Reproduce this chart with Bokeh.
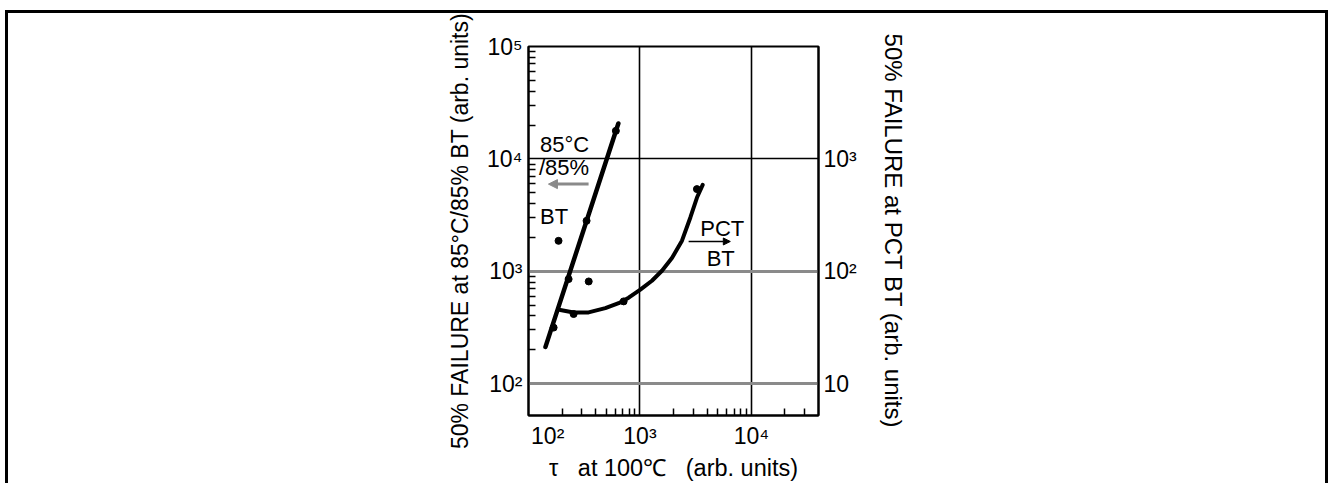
from bokeh.plotting import figure
from bokeh.models import (LogAxis, Range1d, FixedTicker, Grid, Label, Arrow,
                          NormalHead, LogScale)
from bokeh.embed import file_html
from bokeh.resources import INLINE

# ---------------- data ----------------
# 85C/85% BT fitted line (left axis)
tau_line_8585 = [142, 640]
fail_line_8585 = [212, 20650]
# 85C/85% BT measured points (left axis)
tau_pts_8585 = [168, 186, 229, 332, 608]
fail_pts_8585 = [315, 1864, 851, 2808, 17750]
# PCT BT fitted curve (right axis)
tau_curve_pct = [193, 254, 346, 489, 644, 792, 1008, 1281, 1576, 1937,
                 2383, 2834, 3249, 3655]
fail_curve_pct = [45.2, 43.0, 43.0, 46.9, 51.9, 58.1, 68.5, 82.3, 101, 131,
                  187, 301, 453, 587]
# PCT BT measured points (right axis)
tau_pts_pct = [254, 347, 714, 3245]
fail_pts_pct = [41.6, 81.1, 53.9, 538]

x_ticks = [100, 1000, 10000]
x_tick_labels = ["\u00a0" * 6 + "10²", "10³", "10⁴"]
x_minor = [200, 300, 400, 500, 600, 700, 800, 900,
           2000, 3000, 4000, 5000, 6000, 7000, 8000, 9000, 20000, 30000]
yl_ticks = [100, 1000, 10000, 100000]
yl_tick_labels = ["10²", "10³", "10⁴", "10⁵"]
yl_minor = [m * d for d in (100, 1000, 10000) for m in range(2, 10)]
yr_ticks = [10, 100, 1000]
yr_tick_labels = ["10", "10²", "10³"]

x_title = "τ\u00a0\u00a0\u00a0at 100℃\u00a0\u00a0\u00a0(arb. units)"
yl_title = "50% FAILURE at 85°C/85% BT (arb. units)"
yr_title = "50% FAILURE at PCT BT (arb. units)"

FONT = "Liberation Sans"
GRAY = "#8a8a8a"

p = figure(width=1331, height=483, output_backend="svg", toolbar_location=None,
           x_axis_type="log", y_axis_type="log",
           x_range=Range1d(100, 40000), y_range=Range1d(52, 100000),
           min_border_left=528, min_border_right=513,
           min_border_top=46, min_border_bottom=68)
p.extra_y_ranges = {"right": Range1d(5.2, 10000)}
p.extra_y_scales = {"right": LogScale()}

p.outline_line_color = "black"
p.outline_line_width = 2
p.background_fill_color = "white"
p.border_fill_color = None
# outer frame of the picture (drawn behind the transparent border area)
p.styles = {
    "background": (
        "linear-gradient(#000,#000) 5px 10px / 3px 480px no-repeat, "
        "linear-gradient(#000,#000) 5px 10px / 1323px 3px no-repeat, "
        "linear-gradient(#000,#000) 1325px 10px / 3px 480px no-repeat, #fff"
    )
}

# x axis
xa = p.xaxis[0]
xa.ticker = FixedTicker(ticks=x_ticks, minor_ticks=x_minor)
xa.major_label_overrides = {t: l for t, l in zip(x_ticks, x_tick_labels)}
xa.axis_label = x_title

# left axis
ya = p.yaxis[0]
ya.ticker = FixedTicker(ticks=yl_ticks, minor_ticks=yl_minor)
ya.major_label_overrides = {t: l for t, l in zip(yl_ticks, yl_tick_labels)}
ya.axis_label = yl_title

# right axis
ra = LogAxis(y_range_name="right", ticker=FixedTicker(ticks=yr_ticks, minor_ticks=[]))
ra.major_label_overrides = {t: l for t, l in zip(yr_ticks, yr_tick_labels)}
ra.axis_label = yr_title
p.add_layout(ra, "right")

for ax in [xa, ya, ra]:
    ax.axis_line_color = "black"
    ax.axis_line_width = 2
    ax.major_tick_in = 0
    ax.major_tick_out = 0
    ax.minor_tick_in = 7
    ax.minor_tick_out = 0
    ax.minor_tick_line_color = "black"
    ax.minor_tick_line_width = 1.5
    ax.major_label_text_font = FONT
    ax.major_label_text_font_size = "23px"
    ax.major_label_text_color = "black"
    ax.axis_label_text_font = FONT
    ax.axis_label_text_font_style = "normal"
    ax.axis_label_text_color = "black"
    ax.axis_label_text_font_size = "23.5px"
ya.axis_label_text_font_size = "23px"
ra.axis_label_text_font_size = "24px"
xa.major_label_standoff = 7
xa.axis_label_standoff = 3
ya.major_label_standoff = 6
ya.axis_label_standoff = 11
ra.major_label_standoff = 5
ra.axis_label_standoff = 20

# grids
p.xgrid[0].ticker = FixedTicker(ticks=[1000, 10000])
p.xgrid[0].grid_line_color = "black"
p.xgrid[0].grid_line_width = 1.6
p.ygrid[0].ticker = FixedTicker(ticks=[10000])
p.ygrid[0].grid_line_color = "black"
p.ygrid[0].grid_line_width = 1.6
g2 = Grid(dimension=1, ticker=FixedTicker(ticks=[100, 1000]),
          grid_line_color=GRAY, grid_line_width=3)
p.add_layout(g2)

# data marks
p.line(tau_line_8585, fail_line_8585, line_color="black", line_width=4.5,
       line_cap="round")
p.scatter(tau_pts_8585, fail_pts_8585, size=7, color="black")
p.line(tau_curve_pct, fail_curve_pct, line_color="black", line_width=4,
       line_cap="round", line_join="round", y_range_name="right")
p.scatter(tau_pts_pct, fail_pts_pct, size=7, color="black", y_range_name="right")

# annotations
def lab(x, y, t, rng="default"):
    p.add_layout(Label(x=x, y=y, text=t, text_font=FONT, text_font_size="22px",
                       text_color="black", text_baseline="alphabetic",
                       y_range_name=rng))

lab(127, 13560, "85°C")
lab(124, 8320, "/85%")
lab(127, 3100, "BT")
p.add_layout(Arrow(end=NormalHead(size=9, fill_color=GRAY, line_color=GRAY),
                   x_start=346, y_start=5960, x_end=151, y_end=5960,
                   line_color=GRAY, line_width=3))
lab(3480, 240, "PCT", "right")
p.add_layout(Arrow(end=NormalHead(size=7, fill_color="black", line_color="black"),
                   x_start=2734, y_start=184, x_end=6470, y_end=184,
                   line_color="black", line_width=1.5, y_range_name="right"))
lab(3970, 129, "BT", "right")

open("out.html", "w").write(file_html(p, INLINE))
